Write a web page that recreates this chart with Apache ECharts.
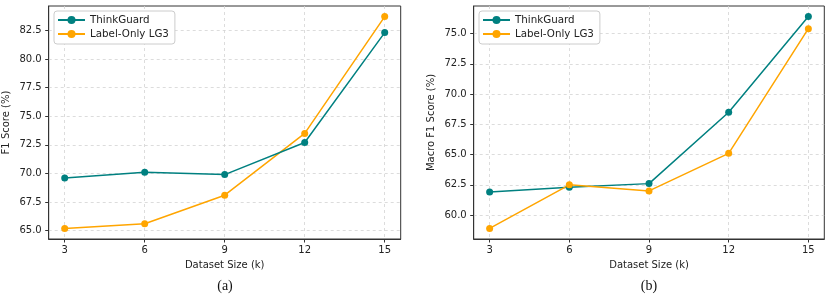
<!DOCTYPE html>
<html>
<head>
<meta charset="utf-8">
<script src="https://cdn.jsdelivr.net/npm/echarts@6/dist/echarts.min.js"></script>
<style>html,body{margin:0;padding:0;background:#fff;}#c{width:830px;height:297px;}</style>
</head>
<body>
<div id="c"></div>
<script>
const sizes = [3, 6, 9, 12, 15];
const xTicks = [3, 6, 9, 12, 15];
const f1Think = [69.6, 70.1, 69.9, 72.7, 82.3];
const f1Label = [65.2, 65.6, 68.1, 73.5, 83.7];
const macroThink = [61.9, 62.3, 62.6, 68.5, 76.4];
const macroLabel = [58.9, 62.5, 62.0, 65.1, 75.4];
const yTicksA = [65.0, 67.5, 70.0, 72.5, 75.0, 77.5, 80.0, 82.5];
const yTicksB = [60.0, 62.5, 65.0, 67.5, 70.0, 72.5, 75.0];
const seriesNames = ['ThinkGuard', 'Label-Only LG3'];
const panelTitles = ['(a)', '(b)'];
const xName = 'Dataset Size (k)';
const yNames = ['F1 Score (%)', 'Macro F1 Score (%)'];

const TEAL = '#008080', ORANGE = '#FFA500';
const FONT = 'DejaVu Sans';
const pair = (xs, ys) => xs.map((x, i) => [x, ys[i]]);

function xAxis(gi) {
  return {
    type: 'value', gridIndex: gi, min: 2.4, max: 15.6, minInterval: 3, maxInterval: 3,
    name: xName, nameLocation: 'middle', nameGap: 21,
    nameTextStyle: { fontFamily: FONT, fontSize: 10, color: '#222' },
    axisLine: { show: true, lineStyle: { color: '#333', width: 1 } },
    axisTick: { show: true, length: 3.5, inside: false, customValues: xTicks, lineStyle: { color: '#333' } },
    axisLabel: { customValues: xTicks, margin: 6, fontFamily: FONT, fontSize: 10, color: '#222', showMinLabel: true, showMaxLabel: true },
    splitLine: { show: true, lineStyle: { color: '#d4d4d4', type: [3, 3], width: 0.8 } }
  };
}
function yAxis(gi, min, max, ticks, name) {
  return {
    type: 'value', gridIndex: gi, min: min, max: max, minInterval: 2.5, maxInterval: 2.5,
    name: name, nameLocation: 'middle', nameGap: 37, nameRotate: 90,
    nameTextStyle: { fontFamily: FONT, fontSize: 10, color: '#222' },
    axisLine: { show: true, lineStyle: { color: '#333', width: 1 } },
    axisTick: { show: true, length: 3.5, inside: false, customValues: ticks, lineStyle: { color: '#333' } },
    axisLabel: { customValues: ticks, margin: 7, fontFamily: FONT, fontSize: 10, color: '#222',
      formatter: v => Number(v).toFixed(1) },
    splitLine: { show: true, lineStyle: { color: '#d4d4d4', type: [3, 3], width: 0.8 } }
  };
}
function line(name, color, data, gi) {
  return {
    type: 'line', name: name, xAxisIndex: gi, yAxisIndex: gi, data: data,
    symbol: 'circle', symbolSize: 7, showSymbol: true,
    lineStyle: { color: color, width: 1.5 }, itemStyle: { color: color },
    emphasis: { disabled: true }, animation: false, z: gi === 0 && color === TEAL ? 3 : 2
  };
}
function legend(left) {
  return {
    data: seriesNames, orient: 'vertical', left: left, top: 11,
    padding: [3, 6, 4, 3], itemGap: 2, itemWidth: 27, itemHeight: 10,
    backgroundColor: '#fff', borderColor: '#ccc', borderWidth: 1, borderRadius: 3,
    textStyle: { fontFamily: FONT, fontSize: 10.3, color: '#222', lineHeight: 12 },
    selectedMode: false
  };
}

const chart = echarts.init(document.getElementById('c'), null, { renderer: 'canvas' });
chart.setOption({
  animation: false,
  backgroundColor: '#fff',
  title: [
    { text: panelTitles[0], left: 225, top: 279, textAlign: 'center', padding: 0,
      textStyle: { fontFamily: 'Liberation Serif', fontSize: 14, fontWeight: 'normal', color: '#111' } },
    { text: panelTitles[1], left: 649, top: 279, textAlign: 'center', padding: 0,
      textStyle: { fontFamily: 'Liberation Serif', fontSize: 14, fontWeight: 'normal', color: '#111' } }
  ],
  legend: [legend(54), legend(479)],
  grid: [
    { left: 48.7, top: 6, width: 352, height: 233, show: true, borderColor: '#333', borderWidth: 1, containLabel: false },
    { left: 473.7, top: 6, width: 350.6, height: 233, show: true, borderColor: '#333', borderWidth: 1, containLabel: false }
  ],
  xAxis: [xAxis(0), xAxis(1)],
  yAxis: [
    yAxis(0, 64.275, 84.625, yTicksA, yNames[0]),
    yAxis(1, 58.025, 77.275, yTicksB, yNames[1])
  ],
  series: [
    line(seriesNames[0], TEAL, pair(sizes, f1Think), 0),
    line(seriesNames[1], ORANGE, pair(sizes, f1Label), 0),
    line(seriesNames[0], TEAL, pair(sizes, macroThink), 1),
    line(seriesNames[1], ORANGE, pair(sizes, macroLabel), 1)
  ]
});
</script>
</body>
</html>
